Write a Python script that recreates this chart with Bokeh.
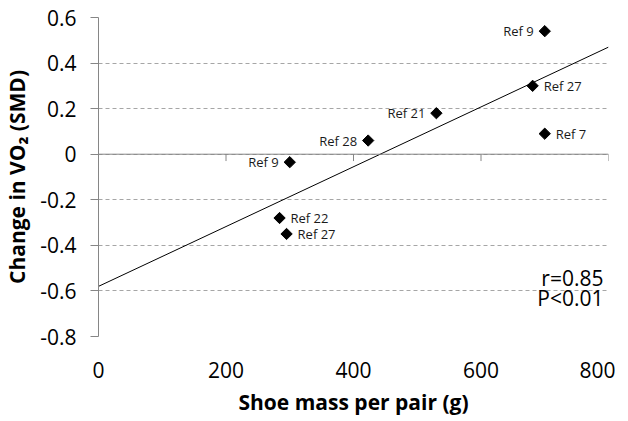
import math
from bokeh.plotting import figure
from bokeh.models import Span, Label, ColumnDataSource, FixedTicker
from bokeh.core.properties import value
from bokeh.embed import file_html
from bokeh.resources import INLINE

# data
shoe_mass = [700, 681, 530, 700, 423, 300, 284, 295]
vo2_change = [0.54, 0.30, 0.18, 0.09, 0.06, -0.035, -0.28, -0.35]
ref_labels = ["Ref 9", "Ref 27", "Ref 21", "Ref 7", "Ref 28", "Ref 9", "Ref 22", "Ref 27"]
label_side = ["left", "right", "left", "right", "left", "left", "right", "right"]

fit_x = [0, 800]
fit_y = [-0.58, 0.47]

x_ticks = [0, 200, 400, 600, 800]
y_ticks = [-0.8, -0.6, -0.4, -0.2, 0, 0.2, 0.4, 0.6]
y_tick_labels = ["-0.8", "-0.6", "-0.4", "-0.2", "0", "0.2", "0.4", "0.6"]

stats_text = ["r=0.85", "P<0.01"]
stats_y = [-0.545, -0.633]

FONT = "Open Sans"

p = figure(frame_width=510, frame_height=319,
           x_range=(0, 800), y_range=(-0.8, 0.6),
           output_backend="svg", toolbar_location=None,
           min_border_left=95, min_border_right=7, min_border_top=17, min_border_bottom=70)
p.outline_line_color = None
p.background_fill_color = "white"
p.border_fill_color = "white"

# axes
xa = p.xaxis[0]
xa.ticker = FixedTicker(ticks=x_ticks)
xa.axis_line_color = None
xa.major_tick_line_color = None
xa.minor_tick_line_color = None
xa.major_tick_out = 0
xa.major_label_standoff = 25
xa.major_label_text_font = FONT
xa.major_label_text_font_size = "21px"
xa.major_label_text_color = "black"
xa.axis_label = "Shoe mass per pair (g)"
xa.axis_label_text_font = FONT
xa.axis_label_text_font_style = "bold"
xa.axis_label_text_font_size = "21px"
xa.axis_label_text_color = "black"
xa.axis_label_standoff = 7

ya = p.yaxis[0]
ya.ticker = FixedTicker(ticks=y_ticks)
ya.major_label_overrides = {t: l for t, l in zip(y_ticks, y_tick_labels)}
ya.axis_line_color = "#868686"
ya.major_tick_line_color = "#868686"
ya.major_tick_out = 8
ya.major_tick_in = 0
ya.minor_tick_line_color = None
ya.major_label_standoff = 14
ya.major_label_text_font = FONT
ya.major_label_text_font_size = "21px"
ya.major_label_text_color = "black"
ya.axis_label = "Change in VO\u2082 (SMD)"
ya.axis_label_text_font = FONT
ya.axis_label_text_font_style = "bold"
ya.axis_label_text_font_size = "21px"
ya.axis_label_text_color = "black"
ya.axis_label_standoff = 6

p.xgrid.grid_line_color = None
p.ygrid.ticker = FixedTicker(ticks=y_ticks)
p.ygrid.grid_line_color = "#a6a6a6"
p.ygrid.grid_line_dash = "4 3"
p.ygrid.grid_line_width = 1

# zero line acting as horizontal axis
p.add_layout(Span(location=0, dimension="width", line_color="#868686", line_width=1))
tick_x = x_ticks[1:]
p.segment(x0=tick_x, y0=[0] * len(tick_x), x1=tick_x, y1=[-0.03] * len(tick_x),
          line_color="#868686", line_width=1)

# regression line
p.line(fit_x, fit_y, line_color="black", line_width=1)

# points
p.scatter(shoe_mass, vo2_change, marker="square", angle=math.pi / 4, size=8,
          fill_color="black", line_color="black")

# point labels
left = ColumnDataSource(dict(
    x=[x for x, s in zip(shoe_mass, label_side) if s == "left"],
    y=[y for y, s in zip(vo2_change, label_side) if s == "left"],
    t=[t for t, s in zip(ref_labels, label_side) if s == "left"]))
right = ColumnDataSource(dict(
    x=[x for x, s in zip(shoe_mass, label_side) if s == "right"],
    y=[y for y, s in zip(vo2_change, label_side) if s == "right"],
    t=[t for t, s in zip(ref_labels, label_side) if s == "right"]))
p.text(x="x", y="y", text="t", source=left, text_align="right", text_baseline="middle",
       x_offset=-11, text_font=value(FONT), text_font_size="13px", text_color="#1a1a1a")
p.text(x="x", y="y", text="t", source=right, text_align="left", text_baseline="middle",
       x_offset=11, text_font=value(FONT), text_font_size="13px", text_color="#1a1a1a")

for t, yv in zip(stats_text, stats_y):
    p.add_layout(Label(x=800, y=yv, text=t, text_align="right", text_baseline="middle",
                       x_offset=-5, text_font=FONT, text_font_size="21px", text_color="black"))

open("out.html", "w").write(file_html(p, INLINE))
